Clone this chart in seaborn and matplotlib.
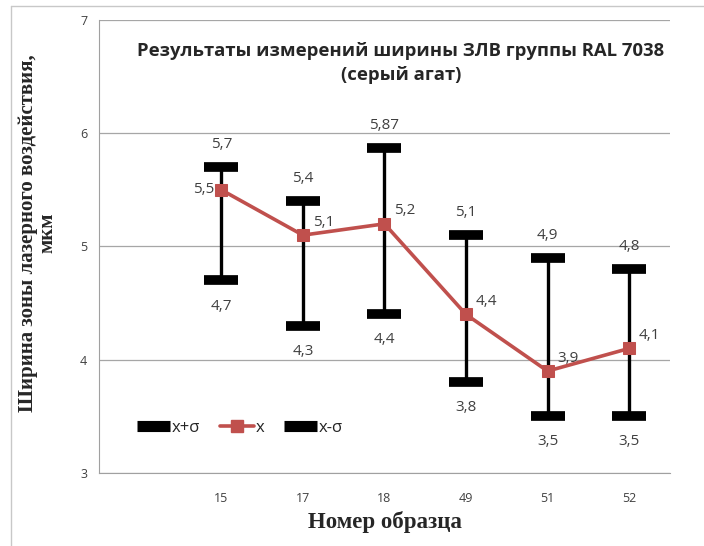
import numpy as np
import pandas as pd
import seaborn as sns
import matplotlib.pyplot as plt
from matplotlib.lines import Line2D

# Data
samples = ['15', '17', '18', '49', '51', '52']
x_mean = [5.5, 5.1, 5.2, 4.4, 3.9, 4.1]
x_plus = [5.7, 5.4, 5.87, 5.1, 4.9, 4.8]
x_minus = [4.7, 4.3, 4.4, 3.8, 3.5, 3.5]

df = pd.DataFrame({
    'pos': np.arange(1, len(samples) + 1),
    'sample': samples,
    'mean': x_mean,
    'plus': x_plus,
    'minus': x_minus,
})

sns.set_style('white')
plt.rcParams['font.family'] = ['Open Sans', 'DejaVu Sans']

fig = plt.figure(figsize=(7.04, 5.46), dpi=100)
ax = fig.add_axes([0.1406, 0.1337, 0.811, 0.8297])

red = '#C0504D'
label_color = '#404040'

# high-low lines between x-sigma and x+sigma
ax.vlines(df['pos'], df['minus'], df['plus'], color='black', lw=2.4, zorder=2)

# x+sigma / x-sigma markers
for col in ['plus', 'minus']:
    sns.lineplot(data=df, x='pos', y=col, ax=ax, linestyle='', marker='_',
                 markersize=24.5, markeredgewidth=7, color='black',
                 markeredgecolor='black', zorder=3)

# mean line
sns.lineplot(data=df, x='pos', y='mean', ax=ax, color=red, lw=2.6, marker='s',
             markersize=8.5, markeredgecolor=red, zorder=4)

def fmt(v):
    return f'{v:g}'.replace('.', ',')

lbl = dict(textcoords='offset points', fontsize=11, color=label_color)
for i, row in df.iterrows():
    ax.annotate(fmt(row['plus']), (row['pos'], row['plus']), xytext=(0, 11),
                ha='center', va='bottom', **lbl)
    ax.annotate(fmt(row['minus']), (row['pos'], row['minus']), xytext=(0, -13),
                ha='center', va='top', **lbl)
    if i == 0:
        ax.annotate(fmt(row['mean']), (row['pos'], row['mean']), xytext=(-5, 0),
                    ha='right', va='center', **lbl)
    else:
        ax.annotate(fmt(row['mean']), (row['pos'], row['mean']), xytext=(7, 4),
                    ha='left', va='bottom', **lbl)

ax.set_xlim(-0.5, len(samples) + 0.5)
ax.set_ylim(3, 7)
ax.set_yticks([3, 4, 5, 6, 7])
ax.set_xticks(np.arange(0, len(samples) + 1))
ax.set_xticklabels([''] + samples, fontsize=9)
ax.set_xticks(np.arange(-0.5, len(samples) + 1), minor=True)
ax.tick_params(axis='x', which='major', length=0, pad=14)
ax.tick_params(axis='x', which='minor', length=5, color='#A0A0A0', direction='out')
ax.tick_params(axis='y', length=5, color='#A0A0A0', direction='out', labelsize=9,
               labelcolor='#404040')
ax.tick_params(axis='x', labelcolor='#404040')
ax.yaxis.grid(True, color='#A6A6A6', lw=0.9)
ax.set_axisbelow(True)
for side in ['top', 'right']:
    ax.spines[side].set_visible(False)
for side in ['left', 'bottom']:
    ax.spines[side].set_color('#A0A0A0')

ax.set_xlabel('Номер образца', family='Liberation Serif', fontweight='bold',
              fontsize=16.5, labelpad=4)
ax.set_ylabel('Ширина зоны лазерного воздействия,\nмкм', family='Liberation Serif',
              fontweight='bold', fontsize=15, linespacing=1.0)
ax.yaxis.set_label_coords(-0.072, 0.53)

ax.text(0.529, 0.905, 'Результаты измерений ширины ЗЛВ группы RAL 7038\n(серый агат)',
        transform=ax.transAxes, ha='center', va='center', fontsize=13.3,
        fontweight='bold', linespacing=1.45)

handles = [
    Line2D([], [], color='black', lw=8, solid_capstyle='butt'),
    Line2D([], [], color=red, lw=2.6, marker='s', markersize=9),
    Line2D([], [], color='black', lw=8, solid_capstyle='butt'),
]
ax.legend(handles, ['x+σ', 'x', 'x-σ'], loc='center left', bbox_to_anchor=(0.04, 0.1),
          ncol=3, frameon=False, fontsize=12, handlelength=2.0, handletextpad=0.1,
          columnspacing=1.2)

# light frame around the chart (left and top edges visible in the reference)
fig.add_artist(Line2D([0.0156, 0.0156], [0.0, 0.989], transform=fig.transFigure,
                      color='#C8C8C8', lw=1))
fig.add_artist(Line2D([0.0156, 1.0], [0.989, 0.989], transform=fig.transFigure,
                      color='#C8C8C8', lw=1))

fig.savefig('out.png', dpi=100)
